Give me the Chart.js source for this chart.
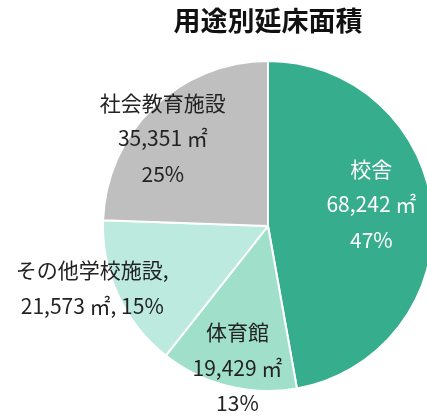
<!DOCTYPE html>
<html>
<head>
<meta charset="utf-8">
<script src="https://cdn.jsdelivr.net/npm/chart.js@4/dist/chart.umd.min.js"></script>
<style>
  html, body { margin: 0; padding: 0; background: #fff; overflow: hidden; }
  #wrap { width: 536px; height: 416px; }
</style>
</head>
<body>
<div id="wrap"><canvas id="chart" width="536" height="416"></canvas></div>
<script>
const categories = ["校舎", "体育館", "その他学校施設", "社会教育施設"];
const areas = [68242, 19429, 21573, 35351];
const percentLabels = ["47%", "13%", "15%", "25%"];
const colors = ["#36ad8c", "#a0e0cb", "#bdeadf", "#bfbfbf"];

// label placement: t = position along the arc (0..1), r = fraction of radius
const labelPlace = [
    { t: 0.46, r: 0.64, color: "#ffffff", oneLine: false },
    { t: 0.46, r: 0.88, color: "#222222", oneLine: false },
    { t: 0.60, r: 1.13, color: "#222222", oneLine: true },
    { t: 0.43, r: 0.83, color: "#222222", oneLine: false }
];

const pieLabels = {
    id: 'pieLabels',
    afterDatasetsDraw(chart) {
        const ctx = chart.ctx;
        const meta = chart.getDatasetMeta(0);
        ctx.save();
        ctx.font = '21px "Noto Sans CJK JP", "Noto Sans", sans-serif';
        ctx.textAlign = 'center';
        ctx.textBaseline = 'middle';
        meta.data.forEach((arc, i) => {
            const p = labelPlace[i];
            const a = arc.startAngle + (arc.endAngle - arc.startAngle) * p.t;
            const x = arc.x + Math.cos(a) * arc.outerRadius * p.r;
            const y = arc.y + Math.sin(a) * arc.outerRadius * p.r;
            const val = areas[i].toLocaleString('en-US') + " ㎡";
            let lines;
            if (p.oneLine) {
                lines = [categories[i] + ",", val + ", " + percentLabels[i]];
            } else {
                lines = [categories[i], val, percentLabels[i]];
            }
            const lh = 35.5;
            const y0 = y - (lines.length - 1) * lh / 2;
            ctx.fillStyle = p.color;
            lines.forEach((s, k) => ctx.fillText(s, x, y0 + k * lh));
        });
        ctx.restore();
    }
};

new Chart(document.getElementById("chart"), {
    type: 'pie',
    data: {
        labels: categories,
        datasets: [{
            data: areas,
            backgroundColor: colors,
            borderColor: "#ffffff",
            borderWidth: 2
        }]
    },
    options: {
        responsive: false,
        animation: false,
        layout: { padding: { top: 0, bottom: 24, left: 0, right: 0 } },
        plugins: {
            legend: { display: false },
            tooltip: { enabled: false },
            title: {
                display: true,
                text: "用途別延床面積",
                color: "#111111",
                font: { family: '"Noto Sans CJK JP", sans-serif', size: 27, weight: 'bold' },
                padding: { top: 5, bottom: 22.6 }
            }
        }
    },
    plugins: [pieLabels]
});
</script>
</body>
</html>
